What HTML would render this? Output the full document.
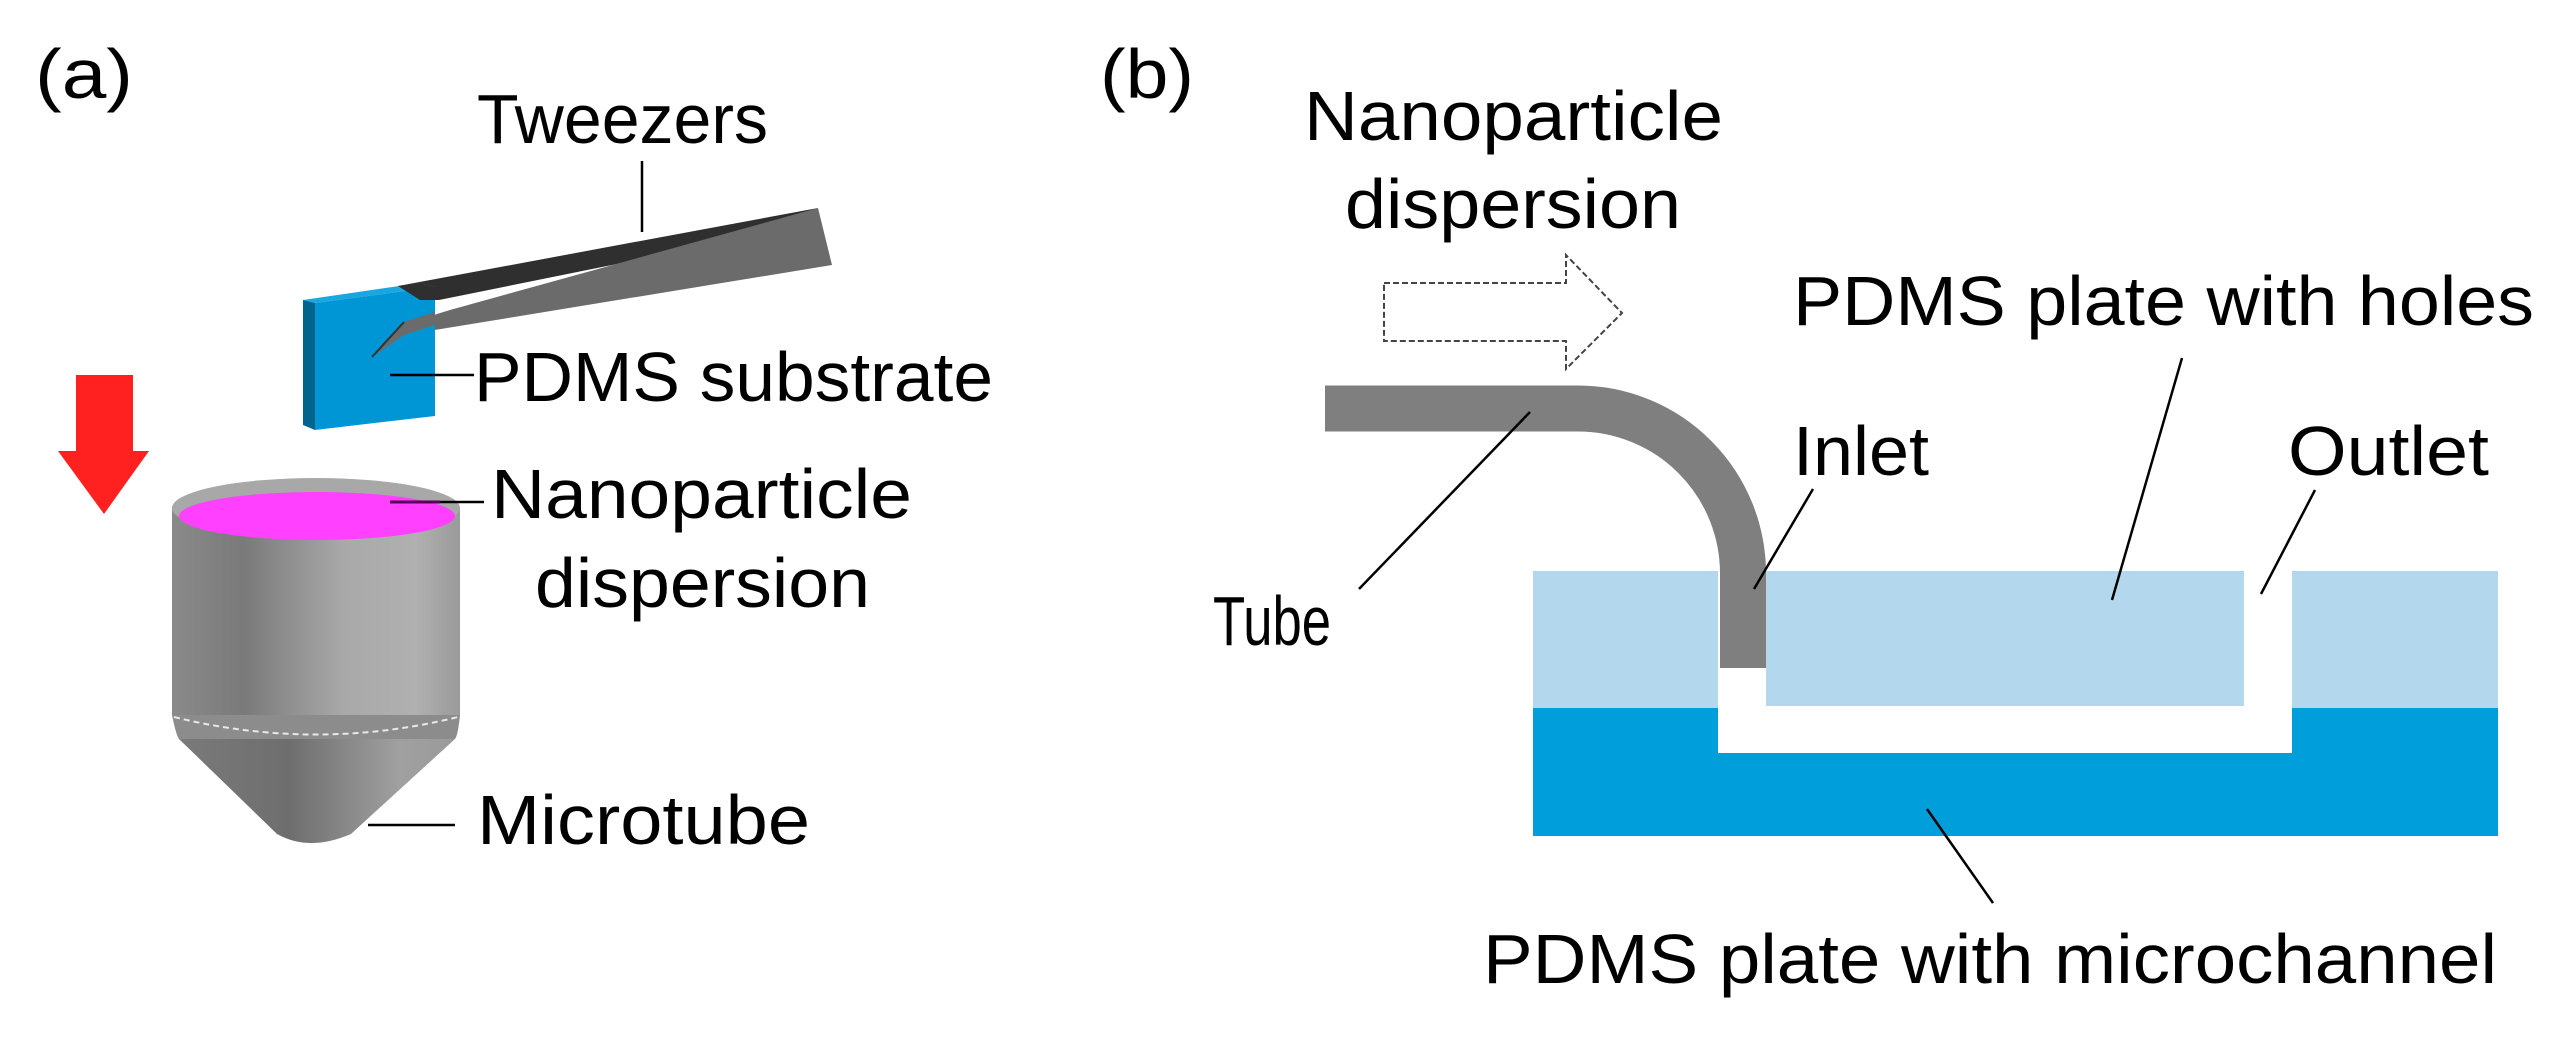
<!DOCTYPE html>
<html><head><meta charset="utf-8"><style>
html,body{margin:0;padding:0;background:#fff;}
svg{display:block;}
text{font-family:"Liberation Sans",sans-serif;fill:#000;font-size:70px;}
</style></head><body>
<svg width="2570" height="1043" viewBox="0 0 2570 1043" xmlns="http://www.w3.org/2000/svg">
<defs>
<linearGradient id="cyl" x1="0" x2="1" y1="0" y2="0">
<stop offset="0" stop-color="#8a8a8a"/><stop offset="0.25" stop-color="#7a7a7a"/><stop offset="0.6" stop-color="#a9a9a9"/><stop offset="0.85" stop-color="#b0b0b0"/><stop offset="1" stop-color="#9a9a9a"/>
</linearGradient>
<linearGradient id="cone" x1="0" x2="1" y1="0" y2="0">
<stop offset="0" stop-color="#7a7a7a"/><stop offset="0.4" stop-color="#6e6e6e"/><stop offset="0.8" stop-color="#a0a0a0"/><stop offset="1" stop-color="#9a9a9a"/>
</linearGradient>
</defs>

<!-- Panel a -->
<text x="35" y="98" font-size="84" textLength="98" lengthAdjust="spacingAndGlyphs">(a)</text>
<text x="477" y="143" textLength="291" lengthAdjust="spacingAndGlyphs">Tweezers</text>
<line x1="642" y1="161" x2="642" y2="232" stroke="#000" stroke-width="2.5"/>

<polygon points="398,286 818,208 745,238 439,300" fill="#2f2f2f"/>
<polygon points="818,208 832,265 404,335 372,357 398,326 450,310" fill="#6b6b6b"/>
<line x1="372" y1="357" x2="400" y2="326" stroke="#333" stroke-width="2"/>

<polygon points="303,300 420,283 435,287 315,303" fill="#1aa7e0"/>
<polygon points="303,300 315,303 315,430 303,425" fill="#00648c"/>
<polygon points="315,303 435,287 435,416 315,430" fill="#0096d6"/>
<polygon points="398,286 420,283 435,287 439,300 420,300" fill="#2f2f2f"/>
<polygon points="404,322 435,312 435,325 404,335 372,357" fill="#6b6b6b"/>
<line x1="372" y1="357" x2="404" y2="322" stroke="#333" stroke-width="2"/>
<line x1="390" y1="375" x2="474" y2="375" stroke="#000" stroke-width="2.5"/>
<text x="474" y="401" textLength="519" lengthAdjust="spacingAndGlyphs">PDMS substrate</text>

<polygon points="76,375 133,375 133,451 149,451 104,514 58,451 76,451" fill="#ff2020"/>

<path d="M179,739 L277,834 Q309,852 351,834 L455,739 Z" fill="url(#cone)"/>
<path d="M172,508 L172,715 Q316,750 460,715 L460,508 Z" fill="url(#cyl)"/>
<path d="M172,715 Q176,735 179,739 L455,739 Q458,735 460,715 Z" fill="#8c8c8c"/>
<path d="M174,717 Q316,752 458,717" fill="none" stroke="#e8e8e8" stroke-width="2" stroke-dasharray="6,4"/>
<ellipse cx="316" cy="508" rx="144" ry="30" fill="#a8a8a8"/>
<ellipse cx="317" cy="516" rx="138" ry="24" fill="#ff40ff"/>
<line x1="390" y1="502" x2="484" y2="502" stroke="#000" stroke-width="2.5"/>
<line x1="390" y1="502" x2="440" y2="502" stroke="#5a005a" stroke-width="3"/>
<text x="491" y="518" textLength="421" lengthAdjust="spacingAndGlyphs">Nanoparticle</text>
<text x="535" y="607" textLength="335" lengthAdjust="spacingAndGlyphs">dispersion</text>
<line x1="368" y1="825" x2="455" y2="825" stroke="#000" stroke-width="2.5"/>
<text x="477" y="844" textLength="333" lengthAdjust="spacingAndGlyphs">Microtube</text>

<!-- Panel b -->
<text x="1100" y="98" font-size="84" textLength="94" lengthAdjust="spacingAndGlyphs">(b)</text>
<text x="1304" y="140" textLength="419" lengthAdjust="spacingAndGlyphs">Nanoparticle</text>
<text x="1345" y="228" textLength="336" lengthAdjust="spacingAndGlyphs">dispersion</text>
<polygon points="1384,283 1566,283 1566,255 1622,313 1566,369 1566,341 1384,341" fill="#fff" stroke="#444" stroke-width="2" stroke-dasharray="6,3"/>

<text x="1793" y="325" textLength="741" lengthAdjust="spacingAndGlyphs">PDMS plate with holes</text>
<text x="1793" y="475" textLength="136" lengthAdjust="spacingAndGlyphs">Inlet</text>
<text x="2288" y="475" textLength="201" lengthAdjust="spacingAndGlyphs">Outlet</text>
<text x="1213" y="645" textLength="118" lengthAdjust="spacingAndGlyphs">Tube</text>
<text x="1483" y="983" textLength="1014" lengthAdjust="spacingAndGlyphs">PDMS plate with microchannel</text>

<rect x="1533" y="708" width="965" height="128" fill="#009edb"/>
<rect x="1718" y="706" width="574" height="47" fill="#fff"/>
<rect x="1533" y="571" width="185" height="137" fill="#b3d8ee"/>
<rect x="1766" y="571" width="478" height="135" fill="#b3d8ee"/>
<rect x="2292" y="571" width="206" height="137" fill="#b3d8ee"/>

<path d="M1325,408.5 L1578,408.5 A165,165 0 0 1 1743,573.5 L1743,668" fill="none" stroke="#7f7f7f" stroke-width="46"/>

<g stroke="#000" stroke-width="2.5">
<line x1="1530" y1="412" x2="1359" y2="589"/>
<line x1="1813" y1="489" x2="1754" y2="589"/>
<line x1="2182" y1="358" x2="2112" y2="600"/>
<line x1="2315" y1="490" x2="2261" y2="594"/>
<line x1="1927" y1="809" x2="1993" y2="903"/>
</g>
</svg>
</body></html>
